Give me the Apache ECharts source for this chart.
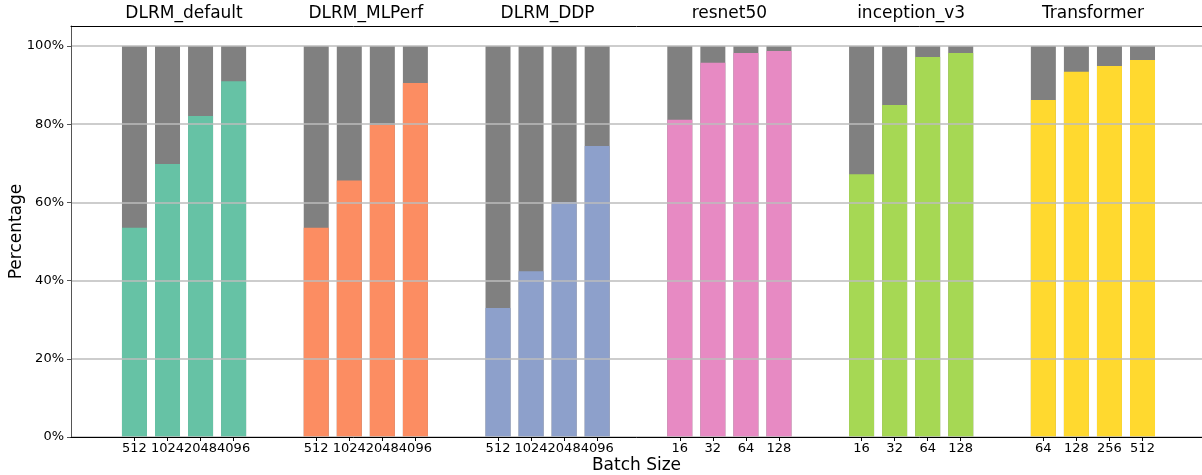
<!DOCTYPE html>
<html>
<head>
<meta charset="utf-8">
<script src="https://cdn.jsdelivr.net/npm/echarts@6/dist/echarts.min.js"></script>
<style>
html,body{margin:0;padding:0;background:#fff;}
#chart{width:1202px;height:475px;}
</style>
</head>
<body>
<div id="chart"></div>
<script>
// ---- data ----
const groups = ['DLRM_default', 'DLRM_MLPerf', 'DLRM_DDP', 'resnet50', 'inception_v3', 'Transformer'];
const batchLabels = [
  ['512', '1024', '2048', '4096'],
  ['512', '1024', '2048', '4096'],
  ['512', '1024', '2048', '4096'],
  ['16', '32', '64', '128'],
  ['16', '32', '64', '128'],
  ['64', '128', '256', '512']
];
const computeShare = [
  [53.5, 69.8, 82.1, 91.0],
  [53.5, 65.6, 79.8, 90.5],
  [33.0, 42.4, 60.1, 74.4],
  [81.1, 95.7, 98.2, 98.7],
  [67.2, 84.9, 97.2, 98.2],
  [86.2, 93.4, 94.9, 96.4]
];
const totalShare = 100;
const groupColors = ['#66c2a5', '#fc8d62', '#8da0cb', '#e78ac3', '#a6d854', '#ffd92f'];
const restColor = '#808080';
const yTicks = [0, 20, 40, 60, 80, 100];

// ---- layout helpers (positions derived from indices) ----
const GROUP_STEP = 5.5;
const pos = (g, j) => g * GROUP_STEP + j;
const barPositions = [], labelMap = {};
const fgData = [], bgData = [];
groups.forEach((name, g) => {
  batchLabels[g].forEach((lab, j) => {
    const x = pos(g, j);
    barPositions.push(x);
    labelMap[x.toFixed(2)] = lab;
    fgData.push({ value: [x, computeShare[g][j]], itemStyle: { color: groupColors[g] } });
    bgData.push({ value: [x, totalShare] });
  });
});
const groupCenters = groups.map((n, g) => pos(g, 1.5));
const groupMap = {};
groupCenters.forEach((c, g) => groupMap[c.toFixed(2)] = groups[g]);

const FONT = 'DejaVu Sans';
const chart = echarts.init(document.getElementById('chart'));
chart.setOption({
  animation: false,
  backgroundColor: '#fff',
  grid: { left: 71, right: 0, top: 26, bottom: 38, containLabel: false, outerBoundsMode: 'none' },
  xAxis: [
    {
      type: 'value', position: 'bottom', min: -1.92, max: 32.3,
      name: 'Batch Size', nameLocation: 'middle', nameGap: 20, nameMoveOverlap: false,
      nameTextStyle: { fontFamily: FONT, fontSize: 17, color: '#000' },
      axisLine: { show: true, onZero: false, lineStyle: { color: '#000', width: 1 } },
      axisTick: { show: true, length: 4, customValues: barPositions, lineStyle: { color: '#000' } },
      axisLabel: {
        customValues: barPositions, margin: 5,
        fontFamily: FONT, fontSize: 13, color: '#000',
        formatter: v => labelMap[Number(v).toFixed(2)] || ''
      },
      splitLine: { show: false }, z: 5
    },
    {
      type: 'value', position: 'top', min: -1.92, max: 32.3,
      axisLine: { show: true, onZero: false, lineStyle: { color: '#000', width: 1 } },
      axisTick: { show: false },
      axisLabel: {
        customValues: groupCenters, margin: 4,
        fontFamily: FONT, fontSize: 17, color: '#000',
        formatter: v => groupMap[Number(v).toFixed(2)] || ''
      },
      splitLine: { show: false }, z: 5
    }
  ],
  yAxis: {
    type: 'value', min: 0, max: 105.1, interval: 20,
    name: 'Percentage', nameLocation: 'middle', nameGap: 46, nameMoveOverlap: false,
    nameTextStyle: { fontFamily: FONT, fontSize: 17, color: '#000' },
    axisLine: { show: true, onZero: false, lineStyle: { color: '#555', width: 1 } },
    axisTick: { show: true, length: 4, customValues: yTicks, lineStyle: { color: '#555' } },
    axisLabel: {
      customValues: yTicks, margin: 7,
      fontFamily: FONT, fontSize: 13, color: '#000',
      formatter: v => v + '%'
    },
    splitLine: { show: true, lineStyle: { color: '#bdbdbd', width: 1.5 } },
    z: 4
  },
  series: [
    {
      type: 'bar', name: 'rest', xAxisIndex: 0, barWidth: 25, barGap: '-100%',
      itemStyle: { color: restColor }, data: bgData, z: 2
    },
    {
      type: 'bar', name: 'main', xAxisIndex: 0, barWidth: 25, barGap: '-100%',
      data: fgData, z: 3
    }
  ]
});
</script>
</body>
</html>
